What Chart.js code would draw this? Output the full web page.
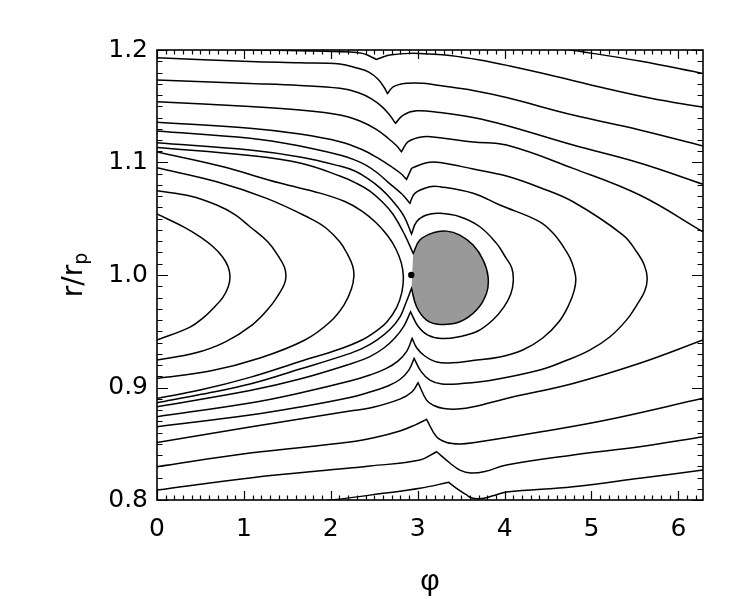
<!DOCTYPE html>
<html>
<head>
<meta charset="utf-8">
<title>Streamlines around the planet</title>
<script src="https://cdn.jsdelivr.net/npm/chart.js"></script>
<style>
    html, body { margin: 0; padding: 0; background: #fff; }
</style>
</head>
<body>
<canvas id="flow" width="750" height="600"></canvas>
<script>
    // axes
    const xTicks = [0, 1, 2, 3, 4, 5, 6];
    const yTicks = [0.8, 0.9, 1.0, 1.1, 1.2];
    const planet = [2.926, 1.0];

    // streamlines, points are [phi, r/rp]
    // lines entering from the top edge
    const curveU0 = [[0.897,1.2005],[1.645,1.1994],[2.220,1.1982],[2.365,1.1970],[2.450,1.1945],[2.527,1.1916],[2.600,1.1938],[2.680,1.1955],[2.910,1.1970],[3.140,1.1964],[3.370,1.1951],[3.715,1.1911],[4.060,1.1858],[4.520,1.1778],[5.095,1.1671],[5.670,1.1573],[6.283,1.1490]];
    const curveT1 = [[4.700,1.2008],[5.555,1.1902],[6.283,1.1792]];

    // outer lines, pass the planet with a cusp
    const curveC1 = [[0,1.1931],[1.070,1.1898],[1.645,1.1886],[2.105,1.1875],[2.300,1.1840],[2.438,1.1804],[2.542,1.1742],[2.611,1.1671],[2.652,1.1613],[2.718,1.1673],[2.872,1.1704],[3.063,1.1704],[3.255,1.1684],[3.638,1.1640],[4.022,1.1577],[4.788,1.1422],[5.555,1.1289],[6.283,1.1146]];
    const curveC2 = [[0,1.1733],[1.070,1.1702],[1.645,1.1684],[2.105,1.1659],[2.312,1.1622],[2.473,1.1564],[2.588,1.1497],[2.668,1.1431],[2.745,1.1348],[2.833,1.1422],[2.987,1.1460],[3.255,1.1444],[3.638,1.1400],[4.022,1.1329],[4.788,1.1155],[5.555,1.0995],[6.283,1.0806]];
    const curveC3 = [[0,1.1540],[1.070,1.1497],[1.645,1.1466],[2.105,1.1422],[2.335,1.1369],[2.519,1.1297],[2.657,1.1217],[2.749,1.1155],[2.814,1.1096],[2.890,1.1185],[3.063,1.1229],[3.255,1.1220],[3.638,1.1182],[4.022,1.1155],[4.788,1.0948],[5.555,1.0711],[6.283,1.0384]];

    // lines that loop round the island on the leading side
    const curveC4 = [[0,1.1357],[1.070,1.1304],[1.645,1.1253],[2.105,1.1185],[2.358,1.1115],[2.553,1.1035],[2.703,1.0960],[2.806,1.0902],[2.872,1.0850],[2.929,1.0948],[3.102,1.0998],[3.255,1.1000],[3.638,1.0942],[4.022,1.0880],[4.405,1.0778],[4.788,1.0651],[5.363,1.0355],[5.521,1.0204],[5.607,1.0089],[5.641,0.9973],[5.613,0.9857],[5.521,0.9733],[5.402,0.9599],[5.210,0.9449],[4.980,0.9333],[4.692,0.9235],[4.405,0.9155],[3.830,0.9062],[3.508,0.9035],[3.278,0.9031],[3.140,0.9066],[3.036,0.9146],[2.959,0.9259],[2.898,0.9155],[2.795,0.9071],[2.657,0.9013],[2.450,0.8960],[2.220,0.8911],[1.645,0.8826],[1.070,0.8755],[0,0.8651]];
    const curveC5 = [[0,1.1280],[1.070,1.1215],[1.645,1.1146],[2.105,1.1066],[2.266,1.1026],[2.404,1.0977],[2.530,1.0911],[2.657,1.0826],[2.818,1.0720],[2.910,1.0637],[2.967,1.0726],[3.140,1.0785],[3.255,1.0785],[3.638,1.0726],[3.945,1.0622],[4.405,1.0473],[4.577,1.0355],[4.712,1.0207],[4.773,1.0115],[4.819,0.9973],[4.802,0.9866],[4.738,0.9733],[4.623,0.9582],[4.439,0.9440],[4.209,0.9333],[3.945,0.9271],[3.634,0.9240],[3.393,0.9219],[3.220,0.9226],[3.082,0.9280],[2.990,0.9351],[2.936,0.9437],[2.875,0.9324],[2.772,0.9235],[2.634,0.9168],[2.450,0.9111],[2.220,0.9057],[1.645,0.8951],[1.070,0.8862],[0,0.8740]];
    const curveC6 = [[0,1.1176],[1.070,1.1111],[1.645,1.1049],[2.105,1.0968],[2.277,1.0924],[2.427,1.0857],[2.576,1.0768],[2.703,1.0666],[2.841,1.0524],[2.929,1.0364],[2.987,1.0473],[3.102,1.0533],[3.255,1.0548],[3.485,1.0518],[3.715,1.0429],[3.907,1.0281],[4.002,1.0169],[4.083,1.0062],[4.100,0.9946],[4.071,0.9831],[3.991,0.9715],[3.864,0.9600],[3.692,0.9502],[3.485,0.9453],[3.278,0.9435],[3.117,0.9466],[3.002,0.9547],[2.918,0.9673],[2.841,0.9546],[2.737,0.9440],[2.611,0.9351],[2.450,0.9275],[2.220,0.9208],[1.645,0.9075],[1.070,0.8973],[0,0.8829]];

    // the shaded island and the line that runs along its edge
    const island = [[2.948,1.0192],[3.025,1.0311],[3.178,1.0375],[3.332,1.0390],[3.485,1.0355],[3.638,1.0266],[3.753,1.0133],[3.810,0.9984],[3.792,0.9837],[3.677,0.9688],[3.485,0.9584],[3.255,0.9561],[3.102,0.9599],[2.987,0.9718],[2.929,0.9881]];
    const tipUpper = [[0,1.1133],[1.070,1.1062],[1.645,1.0995],[2.105,1.0880],[2.300,1.0813],[2.450,1.0746],[2.588,1.0653],[2.714,1.0542],[2.852,1.0355]];
    const tipLower = [[2.864,0.9751],[2.795,0.9626],[2.680,0.9515],[2.530,0.9422],[2.358,0.9346],[2.162,0.9288],[1.645,0.9164],[1.070,0.9031],[0.495,0.8937],[0,0.8864]];

    // horseshoe ends on the trailing side
    const curveH1 = [[0,1.0542],[0.311,1.0426],[0.501,1.0337],[0.649,1.0249],[0.755,1.0160],[0.819,1.0071],[0.840,0.9982],[0.819,0.9893],[0.760,0.9804],[0.662,0.9716],[0.541,0.9626],[0.380,0.9537],[0,0.9422]];
    const curveH2 = [[0,1.0749],[0.380,1.0702],[0.687,1.0622],[0.897,1.0537],[1.070,1.0429],[1.277,1.0293],[1.403,1.0160],[1.466,1.0071],[1.484,0.9995],[1.466,0.9920],[1.403,0.9831],[1.288,0.9706],[1.093,0.9555],[0.782,0.9404],[0.437,0.9306],[0,0.9244]];
    const curveH3 = [[0,1.0953],[0.687,1.0829],[1.262,1.0681],[1.760,1.0504],[1.944,1.0418],[2.105,1.0293],[2.197,1.0177],[2.252,1.0080],[2.266,0.9991],[2.237,0.9875],[2.151,0.9733],[1.990,0.9582],[1.702,0.9422],[1.185,0.9262],[0.610,0.9146],[0,0.9081]];
    const curveH4 = [[0,1.1093],[0.725,1.0968],[1.415,1.0817],[1.875,1.0728],[2.162,1.0653],[2.358,1.0568],[2.519,1.0466],[2.657,1.0346],[2.749,1.0231],[2.812,1.0106],[2.835,0.9982],[2.818,0.9848],[2.760,0.9715],[2.645,0.9582],[2.530,0.9506],[2.358,0.9422],[2.105,0.9342],[1.645,0.9231],[1.070,0.9090],[0.495,0.8977],[0,0.8903]];

    // inner lines below the planet
    const curveL1 = [[0,0.8512],[1.070,0.8649],[2.220,0.8791],[2.450,0.8817],[2.795,0.8897],[2.933,0.8960],[3.005,0.9042],[3.102,0.8888],[3.186,0.8840],[3.301,0.8813],[3.462,0.8808],[3.657,0.8831],[4.022,0.8903],[4.788,0.9036],[5.555,0.9215],[6.283,0.9422]];
    const curveL2 = [[0,0.8296],[1.070,0.8417],[2.220,0.8515],[2.507,0.8555],[2.795,0.8613],[2.967,0.8666],[3.102,0.8717],[3.217,0.8562],[3.335,0.8511],[3.485,0.8498],[3.657,0.8511],[4.405,0.8604],[5.172,0.8711],[6.283,0.8904]];
    const curveL3 = [[0,0.8089],[1.070,0.8196],[2.220,0.8284],[2.450,0.8302],[3.025,0.8355],[3.217,0.8429],[3.370,0.8329],[3.485,0.8266],[3.611,0.8240],[3.772,0.8253],[4.022,0.8311],[4.788,0.8400],[5.555,0.8473],[6.283,0.8562]];
    const curveL4 = [[1.645,0.7973],[2.009,0.8000],[2.603,0.8059],[3.025,0.8104],[3.358,0.8157],[3.447,0.8104],[3.554,0.8049],[3.623,0.8017],[3.738,0.8013],[3.876,0.8040],[4.022,0.8071],[4.788,0.8118],[5.555,0.8193],[6.283,0.8267]];

    const tipLine = tipUpper.concat(island, tipLower);
    const streamlines = [curveU0, curveT1, curveC1, curveC2, curveC3, curveC4, curveC5, curveC6,
        tipLine, curveH1, curveH2, curveH3, curveH4, curveL1, curveL2, curveL3, curveL4];

    // a cusp gets its point twice, so the smoothed line keeps the sharp turn there
    function toPoints(pts) {
        const out = [];
        pts.forEach((p, i) => {
            out.push({x: p[0], y: p[1]});
            if (i === 0 || i === pts.length - 1) return;
            const a = pts[i - 1], c = pts[i + 1];
            const ux = (p[0] - a[0]) * 87, uy = (p[1] - a[1]) * 1125;
            const vx = (c[0] - p[0]) * 87, vy = (c[1] - p[1]) * 1125;
            const cos = (ux * vx + uy * vy) / (Math.hypot(ux, uy) * Math.hypot(vx, vy));
            if (cos < 0.75) out.push({x: p[0], y: p[1]});
        });
        return out;
    }

    const datasets = streamlines.map(c => ({
        data: toPoints(c),
        borderColor: '#000',
        borderWidth: 1.5,
        pointRadius: 0,
        tension: 0.4,
        fill: false
    }));
    datasets.push({
        data: toPoints(island),
        borderColor: 'rgba(0,0,0,0)',
        backgroundColor: '#999999',
        borderWidth: 0,
        pointRadius: 0,
        tension: 0.4,
        fill: 'shape',
        order: 10
    });
    datasets.push({
        data: [{x: planet[0], y: planet[1]}],
        showLine: false,
        pointRadius: 3.2,
        pointBackgroundColor: '#000',
        pointBorderWidth: 0,
        order: -1
    });

    // inward ticks on all four sides and the box, IDL style
    const frameTicks = {
        id: 'frameTicks',
        afterDatasetsDraw(chart) {
            const {ctx, chartArea: a, scales: {x, y}} = chart;
            ctx.save();
            ctx.strokeStyle = '#000';
            ctx.lineWidth = 1.2;
            ctx.beginPath();
            for (let i = 0; i <= 62; i++) {
                const px = Math.round(x.getPixelForValue(i / 10)) + 0.5;
                const len = i % 10 === 0 ? 9 : 4.5;
                ctx.moveTo(px, a.bottom); ctx.lineTo(px, a.bottom - len);
                ctx.moveTo(px, a.top); ctx.lineTo(px, a.top + len);
            }
            for (let i = 80; i <= 120; i++) {
                const py = Math.round(y.getPixelForValue(i / 100)) + 0.5;
                const len = i % 10 === 0 ? 11 : 5.5;
                ctx.moveTo(a.left, py); ctx.lineTo(a.left + len, py);
                ctx.moveTo(a.right, py); ctx.lineTo(a.right - len, py);
            }
            ctx.stroke();
            ctx.lineWidth = 1.6;
            ctx.strokeRect(a.left, a.top, a.right - a.left, a.bottom - a.top);
            ctx.restore();
        }
    };

    const axisTitles = {
        id: 'axisTitles',
        afterDraw(chart) {
            const ctx = chart.ctx;
            const a = chart.chartArea;
            ctx.save();
            ctx.fillStyle = '#000';
            ctx.textAlign = 'center';
            ctx.textBaseline = 'alphabetic';
            ctx.font = '30px "Liberation Sans", Arial, sans-serif';
            ctx.fillText('φ', (a.left + a.right) / 2, 590);

            // r/r with a subscript p, turned to read upwards
            ctx.translate(82, (a.top + a.bottom) / 2);
            ctx.rotate(-Math.PI / 2);
            ctx.textAlign = 'left';
            ctx.font = '28px "DejaVu Sans", sans-serif';
            const wMain = ctx.measureText('r/r').width;
            ctx.font = '19px "DejaVu Sans", sans-serif';
            const wSub = ctx.measureText('p').width;
            const x0 = -(wMain + wSub) / 2;
            ctx.font = '28px "DejaVu Sans", sans-serif';
            ctx.fillText('r/r', x0, 0);
            ctx.font = '19px "DejaVu Sans", sans-serif';
            ctx.fillText('p', x0 + wMain, 5);
            ctx.restore();
        }
    };

    const tickFont = {family: '"DejaVu Sans", sans-serif', size: 25};

    new Chart(document.getElementById('flow'), {
        type: 'line',
        data: {datasets},
        options: {
            responsive: false,
            animation: false,
            events: [],
            layout: {padding: {top: 50, right: 47, bottom: 0, left: 0}},
            plugins: {
                legend: {display: false},
                tooltip: {enabled: false}
            },
            scales: {
                x: {
                    type: 'linear',
                    min: 0,
                    max: 2 * Math.PI,
                    grid: {display: false, drawTicks: false},
                    border: {display: false},
                    ticks: {
                        font: tickFont,
                        color: '#000',
                        padding: 14,
                        maxRotation: 0,
                        autoSkip: false,
                        callback: v => String(v)
                    },
                    afterBuildTicks: s => { s.ticks = xTicks.map(v => ({value: v})); },
                    afterFit: s => { s.height = 100; }
                },
                y: {
                    type: 'linear',
                    min: 0.8,
                    max: 1.2,
                    grid: {display: false, drawTicks: false},
                    border: {display: false},
                    ticks: {
                        font: tickFont,
                        color: '#000',
                        padding: 9,
                        autoSkip: false,
                        callback: v => Number(v).toFixed(1)
                    },
                    afterBuildTicks: s => { s.ticks = yTicks.map(v => ({value: v})); },
                    afterFit: s => { s.width = 157; }
                }
            }
        },
        plugins: [frameTicks, axisTitles]
    });
</script>
</body>
</html>
